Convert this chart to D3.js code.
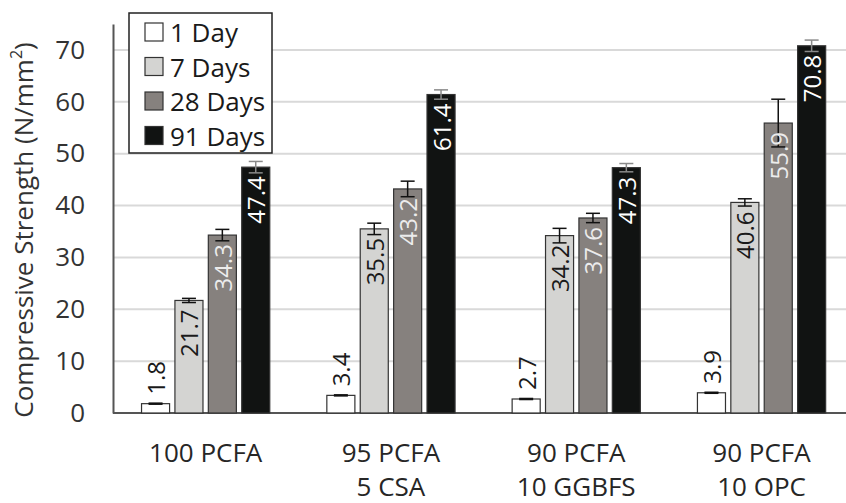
<!DOCTYPE html>
<meta charset="utf-8">
<script src="https://cdn.jsdelivr.net/npm/d3@7"></script>
<style>
	body{margin:0;background:#fff;}
	text{font-family:"Open Sans",sans-serif;}
</style>
<div id='chart'></div>
<script>
// categories, two-line labels
var categories = ["100 PCFA","95 PCFA 5 CSA","90 PCFA 10 GGBFS","90 PCFA 10 OPC"]
var catLines = [["100 PCFA"],["95 PCFA","5 CSA"],["90 PCFA","10 GGBFS"],["90 PCFA","10 OPC"]]
var series = ["1 Day","7 Days","28 Days","91 Days"]

// strength per series, one value per category
var day1 = [1.8, 3.4, 2.7, 3.9]
var day7 = [21.7, 35.5, 34.2, 40.6]
var day28 = [34.3, 43.2, 37.6, 55.9]
var day91 = [47.4, 61.4, 47.3, 70.8]

// error bar half widths
var err1 = [0.1, 0.1, 0.1, 0.1]
var err7 = [0.4, 1.1, 1.4, 0.7]
var err28 = [1.1, 1.5, 0.9, 4.6]
var err91 = [1.1, 0.9, 0.8, 1.1]

var yTicks = [0,10,20,30,40,50,60,70]

var values = [day1,day7,day28,day91]
var errs = [err1,err7,err28,err91]
var fills = ["#ffffff","#d4d4d2","#86817e","#111312"]
var labelColors = ["#1a1a1a","#1a1a1a","#ececec","#ffffff"]
var errColors = ["#111","#111","#111","#8a8a8a"]

var width = 846
var height = 503

var svg = d3.select("#chart").append("svg")
	.attr("width",width)
	.attr("height",height)

var plotLeft = 113, plotBottom = 413, plotTop = 24

var y = d3.scaleLinear().domain([0,75]).range([plotBottom,plotTop])
var x0 = d3.scaleBand().domain(categories).range([plotLeft,plotLeft+4*185.3])
	.paddingInner(0.308).paddingOuter(0.154)
var x1 = d3.scaleBand().domain(series).range([0,x0.bandwidth()]).paddingInner(0.16)

// gridlines
svg.append("g").selectAll("line")
	.data(yTicks.filter(function(d){return d>0}))
	.enter().append("line")
	.attr("x1",plotLeft).attr("x2",width)
	.attr("y1",function(d){return y(d)}).attr("y2",function(d){return y(d)})
	.attr("stroke","#d9d9d9").attr("stroke-width",2)

// y axis
var yAxis = d3.axisLeft(y).tickValues(yTicks).tickSize(0).tickPadding(28)
var yg = svg.append("g").attr("transform","translate("+plotLeft+",0)").call(yAxis)
yg.select(".domain").attr("stroke","#555").attr("stroke-width",2)
yg.selectAll("text").attr("font-size",26).attr("fill","#333")
	.attr("font-family","'Open Sans',sans-serif")

// baseline
svg.append("line").attr("x1",plotLeft).attr("x2",width)
	.attr("y1",y(0)).attr("y2",y(0))
	.attr("stroke","#555").attr("stroke-width",2)

// y title
var title = svg.append("text")
	.attr("transform","translate(33,"+230+") rotate(-90)")
	.attr("text-anchor","middle")
	.attr("font-size",26).attr("fill","#333")
title.append("tspan").text("Compressive Strength (N/mm")
title.append("tspan").attr("font-size",16).attr("baseline-shift","super").text("2")
title.append("tspan").text(")")

// bars
series.forEach(function(s,si){
	var g = svg.append("g")
	categories.forEach(function(c,ci){
		var v = values[si][ci]
		var bx = x0(c)+x1(s)
		var bw = x1.bandwidth()
		g.append("rect")
			.attr("x",bx).attr("y",y(v))
			.attr("width",bw).attr("height",y(0)-y(v))
			.attr("fill",fills[si]).attr("stroke","#333").attr("stroke-width",1.2)
		// error bar
		var e = errs[si][ci]
		var cx = bx+bw/2
		g.append("line").attr("x1",cx).attr("x2",cx)
			.attr("y1",y(v+e)).attr("y2",y(v-e))
			.attr("stroke",errColors[si]).attr("stroke-width",1.5)
		;[v+e,v-e].forEach(function(t){
			g.append("line").attr("x1",cx-7).attr("x2",cx+7)
				.attr("y1",y(t)).attr("y2",y(t))
				.attr("stroke",errColors[si]).attr("stroke-width",1.5)
		})
		// value label
		var inside = si>0
		g.append("text")
			.attr("transform","translate("+cx+","+(inside ? y(v)+9 : y(v)-9)+") rotate(-90)")
			.attr("text-anchor",inside ? "end" : "start")
			.attr("dominant-baseline","central")
			.attr("font-size",24)
			.attr("fill",labelColors[si])
			.text(v.toFixed(1))
	})
})

// x labels
categories.forEach(function(c,ci){
	var t = svg.append("text")
		.attr("text-anchor","middle")
		.attr("font-size",26).attr("fill","#262626")
	catLines[ci].forEach(function(line,li){
		t.append("tspan").attr("x",x0(c)+x0.bandwidth()/2)
			.attr("y",462+li*34).text(line)
	})
})

// legend
var lg = svg.append("g")
lg.append("rect").attr("x",129).attr("y",13).attr("width",143).attr("height",140)
	.attr("fill","#fff").attr("stroke","#222").attr("stroke-width",1.5)
series.forEach(function(s,si){
	var cy = 32+si*34.5
	lg.append("rect").attr("x",145).attr("y",cy-9).attr("width",18).attr("height",18)
		.attr("fill",fills[si]).attr("stroke","#333").attr("stroke-width",1.2)
	lg.append("text").attr("x",170).attr("y",cy)
		.attr("dominant-baseline","central")
		.attr("font-size",26).attr("fill","#1a1a1a")
		.text(s)
})
</script>
